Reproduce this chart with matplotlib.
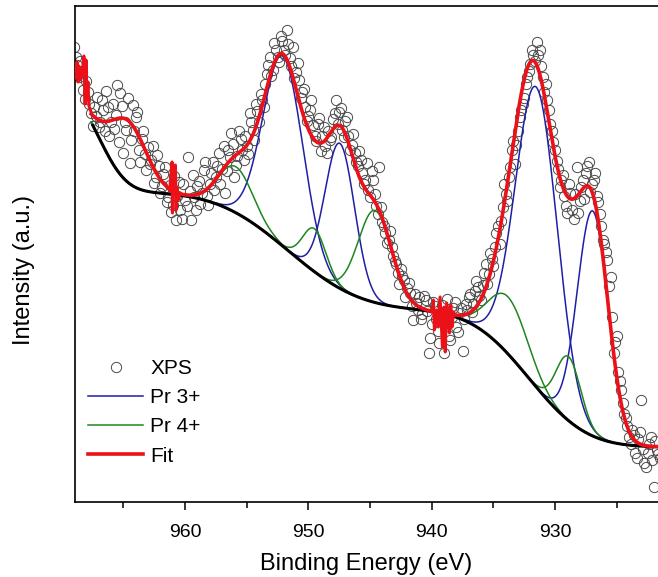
import math
import numpy as np
import matplotlib
matplotlib.use('Agg')
import matplotlib.pyplot as plt
from matplotlib.ticker import MultipleLocator

plt.rcParams['font.family'] = ['Liberation Sans', 'DejaVu Sans']

# measured XPS intensity (a.u.), from 969.0 eV down in 0.25 eV steps
xps_start = 969.0
xps_step = 0.25
xps_counts = [
    455, 437, 441, 412, 421, 398, 376, 386, 375, 402, 371, 395, 380, 373, 417, 409,
    349, 372, 339, 397, 385, 352, 363, 348, 355, 342, 319, 347, 309, 328, 300, 317,
    297, 282, 320, 283, 302, 345, 282, 305, 316, 298, 332, 306, 318, 340, 325, 349,
    333, 309, 352, 369, 325, 346, 363, 342, 356, 389, 372, 398, 380, 402, 418, 437,
    426, 459, 445, 466, 452, 472, 444, 455, 430, 422, 410, 395, 386, 402, 366, 378,
    351, 375, 349, 362, 383, 402, 390, 372, 381, 366, 357, 349, 336, 342, 318, 339,
    305, 322, 296, 335, 280, 269, 262, 255, 241, 229, 233, 222, 214, 209, 182, 199,
    205, 188, 202, 149, 178, 196, 171, 185, 149, 203, 162, 194, 175, 189, 151, 198,
    205, 190, 211, 215, 202, 229, 218, 249, 236, 269, 258, 295, 308, 325, 352, 338,
    371, 392, 404, 425, 438, 447, 460, 452, 425, 418, 392, 371, 352, 333, 322, 306,
    289, 309, 283, 335, 301, 322, 329, 340, 318, 329, 300, 276, 258, 242, 225, 149,
    166, 121, 99, 84, 65, 72, 49, 63, 102, 39, 49, 65, 15, 52, 44,
]
# second pass, shifted by half a step (968.875 eV down)
xps_counts_b = [
    445, 425, 430, 403, 410, 389, 395, 405, 380, 392, 411, 366, 398, 387, 360, 396,
    380, 404, 362, 371, 390, 340, 371, 332, 338, 356, 325, 336, 316, 335, 305, 290,
    326, 306, 292, 318, 296, 311, 327, 292, 321, 309, 340, 297, 329, 312, 336, 318,
    356, 331, 345, 358, 337, 371, 352, 366, 348, 380, 362, 391, 408, 395, 428, 445,
    432, 452, 440, 461, 447, 458, 436, 424, 439, 404, 413, 381, 392, 377, 361, 384,
    366, 356, 371, 365, 389, 378, 394, 365, 385, 352, 368, 340, 351, 329, 322, 312,
    331, 308, 288, 295, 276, 259, 271, 246, 238, 218, 226, 205, 219, 196, 208, 192,
    183, 206, 191, 164, 200, 183, 159, 197, 180, 166, 185, 200, 170, 194, 183, 192,
    208, 198, 221, 206, 217, 238, 228, 243, 255, 276, 281, 318, 301, 335, 361, 357,
    385, 398, 418, 431, 452, 441, 447, 436, 410, 402, 378, 360, 341, 315, 327, 296,
    318, 292, 308, 289, 315, 303, 336, 310, 322, 306, 288, 262, 250, 216, 185, 160,
    130, 112, 88, 76, 58, 67, 44, 70, 53, 35, 58, 42, 61, 48,
]

# Shirley-type background: floor plus three steps
bg_floor = 55
step_centers = [932.1, 951.6, 967.0]
step_heights = [137, 118, 110]
step_widths = [5.2, 6.5, 2.5]

# fitted components (centre eV, height, sigma eV)
pr3_centers = [952.05, 947.45, 931.5, 926.95]
pr3_heights = [190, 145, 300, 225]
pr3_sigmas = [1.62, 1.2, 1.69, 1.25]

pr4_centers = [955.9, 949.5, 944.6, 933.8, 928.9]
pr4_heights = [46, 43, 92, 57, 64]
pr4_sigmas = [1.4, 0.95, 1.36, 1.6, 1.0]

# satellite only present in the total fit
sat_center = 964.6
sat_height = 62
sat_sigma = 1.5

# jagged bits of the fit curve
glitch1_x = [969.0, 968.84, 968.76, 968.68, 968.6, 968.52, 968.35, 968.2, 968.1,
             968.03, 967.95, 967.87, 967.79, 967.62]
glitch1_y = [432, 424, 440, 420, 436, 422, 428, 446, 398, 442, 402, 420, 396, 390]
glitch2_x = [961.25, 961.05, 961.02, 960.98, 960.9, 960.78, 960.72, 960.66, 960.55, 960.4]
glitch2_y = [311, 340, 289, 312, 310, 337, 292, 315, 302, 309]
glitch3_x = [940.0, 939.86, 939.78, 939.6, 939.46, 939.32, 939.13, 939.0, 938.9,
             938.78, 938.56, 938.45, 938.35, 938.24]
glitch3_y = [190, 202, 172, 192, 175, 205, 155, 195, 150, 199, 169, 197, 175, 190]

erf = np.vectorize(math.erf)


def background(x):
    y = np.full_like(x, bg_floor, dtype=float)
    for c, h, w in zip(step_centers, step_heights, step_widths):
        y += h * 0.5 * (1 + erf((x - c) / w))
    return y


def gauss(x, c, h, s):
    return h * np.exp(-(x - c) ** 2 / (2 * s ** 2))


xps_energy = xps_start - xps_step * np.arange(len(xps_counts))
xps_energy_b = xps_start - xps_step / 2 - xps_step * np.arange(len(xps_counts_b))
e = np.linspace(967.6, 921.5, 1500)
bg = background(e)

fig = plt.figure(figsize=(6.58, 5.77), dpi=100)
ax = fig.add_axes([75 / 658, 75 / 577, 583 / 658, 496 / 577])

ax.plot(xps_energy, xps_counts, 'o', mfc='none', mec='#4a4a4a', mew=0.7, ms=7.4,
        zorder=1, label='XPS')
ax.plot(xps_energy_b, xps_counts_b, 'o', mfc='none', mec='#4a4a4a', mew=0.7, ms=7.4,
        zorder=1)

fit = bg.copy()
for i, (c, h, s) in enumerate(zip(pr3_centers, pr3_heights, pr3_sigmas)):
    g = gauss(e, c, h, s)
    fit += g
    ax.plot(e, bg + g, color='#1f1fa6', lw=1.1, zorder=2,
            label='Pr 3+' if i == 0 else None)
for i, (c, h, s) in enumerate(zip(pr4_centers, pr4_heights, pr4_sigmas)):
    g = gauss(e, c, h, s)
    fit += g
    ax.plot(e, bg + g, color='#1e861e', lw=1.1, zorder=2,
            label='Pr 4+' if i == 0 else None)
fit += gauss(e, sat_center, sat_height, sat_sigma)

bg_mask = e <= 967.5
ax.plot(e[bg_mask], bg[bg_mask], color='black', lw=2.2, zorder=3)

ax.plot(e, fit, color='#ec1018', lw=2.6, zorder=4, label='Fit')
for gx, gy in [(glitch1_x, glitch1_y), (glitch2_x, glitch2_y), (glitch3_x, glitch3_y)]:
    ax.plot(gx, gy, color='#ec1018', lw=2.2, zorder=4)

ax.set_xlim(968.92, 921.65)
ax.set_ylim(0, 496)
ax.xaxis.set_major_locator(MultipleLocator(10))
ax.xaxis.set_minor_locator(MultipleLocator(5))
ax.tick_params(axis='x', which='major', direction='out', length=6, width=1.1,
               labelsize=14, pad=9.5)
ax.tick_params(axis='x', which='minor', direction='out', length=4, width=1.1)
ax.set_yticks([])
for side in ['left', 'bottom', 'top']:
    ax.spines[side].set_linewidth(1.2)
ax.spines['right'].set_visible(False)

ax.set_xlabel('Binding Energy (eV)', fontsize=17, labelpad=9)
ax.set_ylabel('Intensity (a.u.)', fontsize=17)
ax.yaxis.set_label_coords(-0.0686, 0.468)

handles, labels = ax.get_legend_handles_labels()
ax.legend(handles, labels, loc='upper left', bbox_to_anchor=(13 / 583, 143 / 496),
          frameon=False, fontsize=15, borderpad=0, borderaxespad=0,
          handlelength=2.64, handletextpad=0.34, labelspacing=0.49, numpoints=1)

fig.savefig('out.png', dpi=100)
